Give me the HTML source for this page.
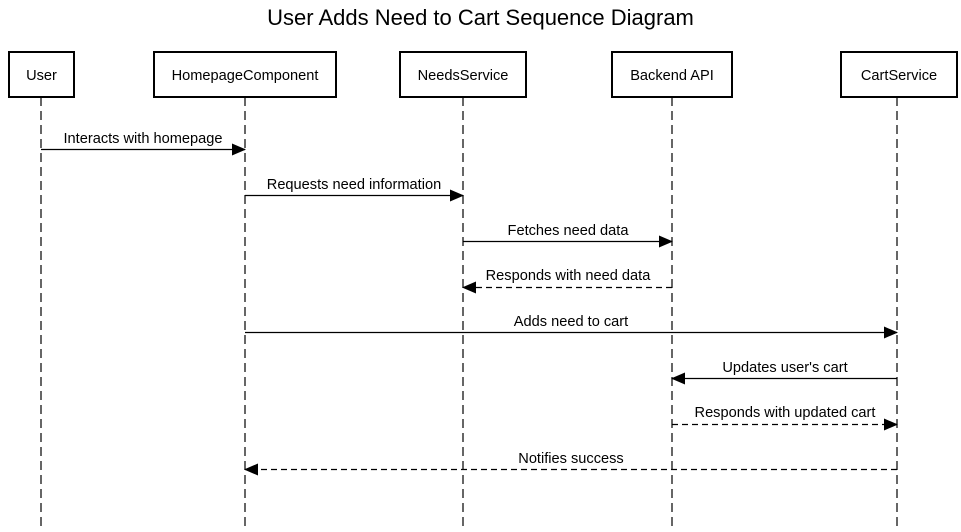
<!DOCTYPE html>
<html><head><meta charset="utf-8"><style>
body{margin:0;background:#fff;}
svg text{font-family:"Liberation Sans",Arial,sans-serif;fill:#000;}
</style></head><body>
<svg width="961" height="527" viewBox="0 0 961 527" xmlns="http://www.w3.org/2000/svg">
<defs>
<marker id="a" markerWidth="14" markerHeight="12" refX="13" refY="6" orient="auto" markerUnits="userSpaceOnUse">
<path d="M0,0 L14,6 L0,12 Z" fill="#000"/></marker>
</defs>
<rect width="961" height="527" fill="#fff"/>
<text x="480.5" y="25" font-size="22" text-anchor="middle">User Adds Need to Cart Sequence Diagram</text>
<g stroke="#000" stroke-width="1.2" stroke-dasharray="9,5" fill="none">
<line x1="41" y1="97" x2="41" y2="527"/>
<line x1="245" y1="97" x2="245" y2="527"/>
<line x1="463" y1="97" x2="463" y2="527"/>
<line x1="672" y1="97" x2="672" y2="527"/>
<line x1="897" y1="97" x2="897" y2="527"/>
</g>
<g stroke="#000" stroke-width="2" fill="#fff">
<rect x="9" y="52" width="65" height="45"/>
<rect x="154" y="52" width="182" height="45"/>
<rect x="400" y="52" width="126" height="45"/>
<rect x="612" y="52" width="120" height="45"/>
<rect x="841" y="52" width="116" height="45"/>
</g>
<g font-size="14.6" text-anchor="middle">
<text x="41.5" y="80">User</text>
<text x="245" y="80">HomepageComponent</text>
<text x="463" y="80">NeedsService</text>
<text x="672" y="80">Backend API</text>
<text x="899" y="80">CartService</text>
</g>
<g stroke="#000" stroke-width="1.2" fill="none" marker-end="url(#a)">
<line x1="41" y1="149.5" x2="245" y2="149.5"/>
<line x1="245" y1="195.5" x2="463" y2="195.5"/>
<line x1="463" y1="241.5" x2="672" y2="241.5"/>
<line x1="672" y1="287.5" x2="463" y2="287.5" stroke-dasharray="6,4"/>
<line x1="245" y1="332.5" x2="897" y2="332.5"/>
<line x1="897" y1="378.5" x2="672" y2="378.5"/>
<line x1="672" y1="424.5" x2="897" y2="424.5" stroke-dasharray="6,4"/>
<line x1="897" y1="469.5" x2="245" y2="469.5" stroke-dasharray="6,4"/>
</g>
<g font-size="14.6" text-anchor="middle">
<text x="143" y="143">Interacts with homepage</text>
<text x="354" y="189">Requests need information</text>
<text x="568" y="235">Fetches need data</text>
<text x="568" y="280">Responds with need data</text>
<text x="571" y="326">Adds need to cart</text>
<text x="785" y="372">Updates user's cart</text>
<text x="785" y="417">Responds with updated cart</text>
<text x="571" y="463">Notifies success</text>
</g>
</svg>
</body></html>
